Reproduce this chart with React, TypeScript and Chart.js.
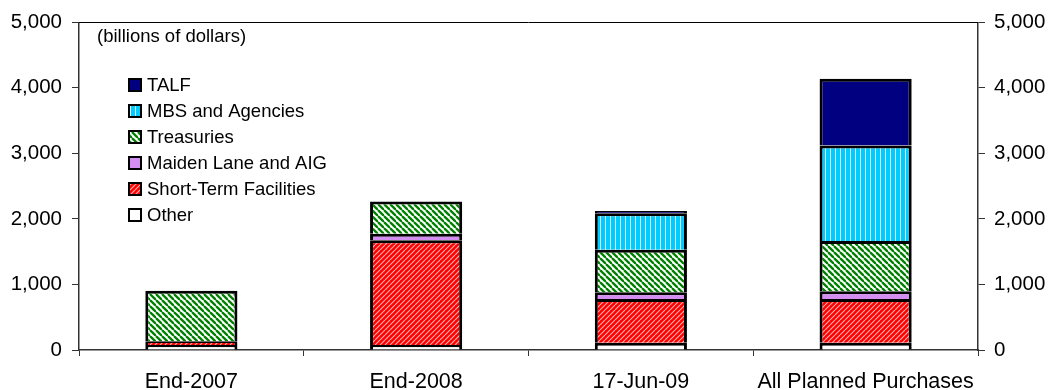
import React, { useEffect, useRef } from 'react';
import { Chart, registerables } from 'chart.js';

Chart.register(...registerables);

const categories = ['End-2007', 'End-2008', '17-Jun-09', 'All Planned Purchases'];
const other = [75, 75, 110, 110];
const shortTerm = [60, 1600, 670, 670];
const maidenLane = [null, 100, 100, 115];
const treasuries = [770, 490, 650, 770];
const mbs = [null, null, 555, 1455];
const talf = [null, null, 35, 1020];
const yTicks = [0, 1000, 2000, 3000, 4000, 5000];

const FONT = "'Liberation Sans', Arial, sans-serif";

function makePattern(
  w: number,
  h: number,
  draw: (c: CanvasRenderingContext2D) => void
): CanvasPattern | string {
  const cv = document.createElement('canvas');
  cv.width = w;
  cv.height = h;
  const c = cv.getContext('2d')!;
  draw(c);
  const p = c.createPattern(cv, 'repeat');
  return p || '#888';
}

export default function App() {
  const ref = useRef<HTMLCanvasElement>(null);

  useEffect(() => {
    document.body.style.margin = '0';
    const canvas = ref.current!;
    const ctx = canvas.getContext('2d')!;

    const greenPat = makePattern(6, 6, (c) => {
      c.fillStyle = '#ffffff';
      c.fillRect(0, 0, 6, 6);
      c.strokeStyle = '#008000';
      c.lineWidth = 2.3;
      for (const o of [-6, 0, 6]) {
        c.beginPath();
        c.moveTo(o, 0);
        c.lineTo(o + 6, 6);
        c.stroke();
      }
    });
    const redPat = makePattern(5, 5, (c) => {
      c.fillStyle = '#ff0000';
      c.fillRect(0, 0, 5, 5);
      c.strokeStyle = '#ffb4b4';
      c.lineWidth = 1.1;
      for (const o of [-5, 0, 5]) {
        c.beginPath();
        c.moveTo(o, 5);
        c.lineTo(o + 5, 0);
        c.stroke();
      }
    });
    const cyanPat = makePattern(5, 4, (c) => {
      c.fillStyle = '#00ccff';
      c.fillRect(0, 0, 5, 4);
      c.fillStyle = '#d8f6ff';
      c.fillRect(0, 0, 1, 4);
    });

    const bw = 3;
    const frame = {
      id: 'frame',
      afterDraw(chart: any) {
        const c = chart.ctx;
        const a = chart.chartArea;
        c.save();
        c.strokeStyle = '#000';
        c.lineWidth = 1;
        c.beginPath();
        c.moveTo(a.left, Math.round(a.top) + 0.5);
        c.lineTo(a.right, Math.round(a.top) + 0.5);
        c.stroke();

        c.fillStyle = '#000';
        c.font = `18.5px ${FONT}`;
        c.textBaseline = 'middle';
        c.textAlign = 'left';
        c.fillText('(billions of dollars)', 97, 37);

        const ds = chart.data.datasets.slice().reverse();
        ds.forEach((d: any, i: number) => {
          const y = 85 + i * 26;
          c.fillStyle = d.backgroundColor;
          c.fillRect(128, y - 7, 14, 14);
          c.strokeStyle = '#000';
          c.lineWidth = 2;
          c.strokeRect(129, y - 6, 12, 12);
          c.fillStyle = '#000';
          c.fillText(d.label, 147, y + 1);
        });
        c.restore();
      },
    };

    const mk = (label: string, data: any[], bg: any) => ({
      label,
      data,
      backgroundColor: bg,
      borderColor: '#000',
      borderWidth: bw,
      borderSkipped: 'start',
      categoryPercentage: 1,
      barPercentage: 0.41,
      yAxisID: 'y',
    });

    const chart = new Chart(ctx, {
      type: 'bar',
      data: {
        labels: categories,
        datasets: [
          mk('Other', other, '#ffffff'),
          mk('Short-Term Facilities', shortTerm, redPat),
          mk('Maiden Lane and AIG', maidenLane, '#d48ef2'),
          mk('Treasuries', treasuries, greenPat),
          mk('MBS and Agencies', mbs, cyanPat),
          mk('TALF', talf, '#000080'),
        ] as any,
      },
      options: {
        responsive: false,
        animation: false,
        layout: { padding: { top: 20, bottom: 0, left: 0, right: 0 } },
        plugins: {
          legend: { display: false },
          tooltip: { enabled: false },
          title: { display: false },
        },
        scales: {
          x: {
            stacked: true,
            offset: true,
            grid: {
              offset: true,
              drawOnChartArea: false,
              drawTicks: true,
              tickLength: 6,
              color: '#333',
            },
            border: { display: true, color: '#333', width: 1.5 },
            ticks: {
              color: '#000',
              font: { family: FONT, size: 21.5 },
              padding: 13,
              maxRotation: 0,
              autoSkip: false,
            },
            afterFit: (s: any) => {
              s.height = 40;
            },
          },
          y: {
            stacked: true,
            position: 'left',
            min: 0,
            max: 5000,
            afterBuildTicks: (s: any) => {
              s.ticks = yTicks.map((v) => ({ value: v }));
            },
            grid: {
              drawOnChartArea: false,
              drawTicks: true,
              tickLength: 7,
              color: '#333',
            },
            border: { display: true, color: '#333', width: 1.5 },
            ticks: {
              color: '#000',
              font: { family: FONT, size: 20.5 },
              padding: 10,
            },
            afterFit: (s: any) => {
              s.width = 79;
            },
          },
          y2: {
            position: 'right',
            min: 0,
            max: 5000,
            afterBuildTicks: (s: any) => {
              s.ticks = yTicks.map((v) => ({ value: v }));
            },
            grid: {
              drawOnChartArea: false,
              drawTicks: true,
              tickLength: 7,
              color: '#333',
            },
            border: { display: true, color: '#333', width: 1.5 },
            ticks: {
              color: '#000',
              font: { family: FONT, size: 20.5 },
              padding: 9,
            },
            afterFit: (s: any) => {
              s.width = 73;
            },
          },
        },
      } as any,
      plugins: [frame],
    });

    return () => chart.destroy();
  }, []);

  return (
    <div style={{ width: 1051, height: 390 }}>
      <canvas ref={ref} width={1051} height={390} style={{ display: 'block' }} />
    </div>
  );
}
